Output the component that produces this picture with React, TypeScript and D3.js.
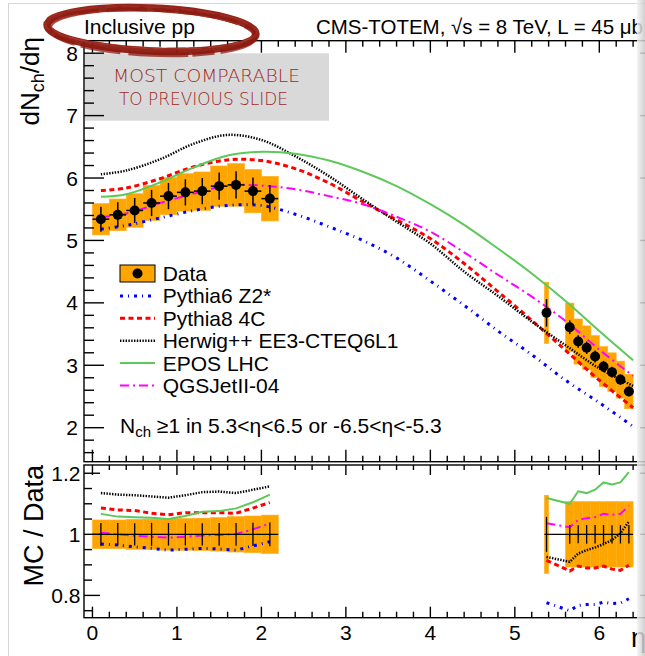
import React from "react";
import * as d3 from "d3";

const FONT = "'Liberation Sans', Arial, Helvetica, sans-serif";

// central region bins (0 < eta < 2.2)
const etaC = [0.1, 0.3, 0.5, 0.7, 0.9, 1.1, 1.3, 1.5, 1.7, 1.9, 2.1];
const loC = [0.0, 0.2, 0.4, 0.6, 0.8, 1.0, 1.2, 1.4, 1.6, 1.8, 2.0];
const hiC = [0.2, 0.4, 0.6, 0.8, 1.0, 1.2, 1.4, 1.6, 1.8, 2.0, 2.2];
const dataC = [5.34, 5.41, 5.48, 5.6, 5.71, 5.77, 5.79, 5.87, 5.89, 5.79, 5.67];
const statC = [0.2, 0.2, 0.2, 0.21, 0.21, 0.21, 0.21, 0.22, 0.22, 0.22, 0.22];
const sysC = [0.047, 0.047, 0.049, 0.05, 0.052, 0.052, 0.053, 0.055, 0.058, 0.06, 0.063];

// forward region bins (T2)
const etaF = [5.375, 5.65, 5.75, 5.85, 5.95, 6.05, 6.15, 6.25, 6.35];
const loF = [5.35, 5.6, 5.7, 5.8, 5.9, 6.0, 6.1, 6.2, 6.3];
const hiF = [5.4, 5.7, 5.8, 5.9, 6.0, 6.1, 6.2, 6.3, 6.4];
const dataF = [3.84, 3.61, 3.38, 3.28, 3.14, 2.98, 2.89, 2.77, 2.58];
const statF = [0.22, 0.11, 0.1, 0.1, 0.095, 0.09, 0.087, 0.083, 0.078];
const sysF = [0.128, 0.107, 0.107, 0.107, 0.107, 0.107, 0.107, 0.107, 0.107];

// MC predictions
const etaMC = [0.1, 0.4, 0.8, 1.2, 1.6, 2.0, 2.4, 2.8, 3.2, 3.6, 4.0, 4.4, 4.8, 5.2, 5.6, 6.0, 6.4];
const pythia6 = [5.18, 5.24, 5.36, 5.48, 5.56, 5.56, 5.42, 5.22, 5.0, 4.72, 4.35, 3.96, 3.55, 3.17, 2.76, 2.4, 2.02];
const pythia8 = [5.8, 5.84, 5.99, 6.18, 6.29, 6.28, 6.15, 5.92, 5.62, 5.33, 5.03, 4.63, 4.18, 3.72, 3.24, 2.76, 2.32];
const herwig = [6.06, 6.12, 6.3, 6.55, 6.69, 6.61, 6.35, 6.03, 5.66, 5.3, 4.95, 4.5, 4.11, 3.7, 3.32, 2.95, 2.67];
const epos = [5.7, 5.74, 5.93, 6.17, 6.36, 6.42, 6.39, 6.28, 6.1, 5.87, 5.58, 5.25, 4.87, 4.47, 4.03, 3.55, 3.08];
const qgsjet = [5.37, 5.43, 5.6, 5.75, 5.88, 5.88, 5.82, 5.71, 5.58, 5.38, 5.14, 4.81, 4.45, 4.1, 3.71, 3.25, 2.83];

// MC / Data
const rPy6C = [0.968, 0.965, 0.959, 0.954, 0.948, 0.951, 0.954, 0.952, 0.948, 0.962, 0.976];
const rPy8C = [1.086, 1.08, 1.078, 1.069, 1.064, 1.071, 1.071, 1.071, 1.069, 1.086, 1.104];
const rHerC = [1.135, 1.13, 1.128, 1.124, 1.12, 1.128, 1.138, 1.14, 1.135, 1.146, 1.157];
const rEposC = [1.067, 1.058, 1.056, 1.054, 1.05, 1.06, 1.074, 1.076, 1.085, 1.105, 1.13];
const rQgsC = [1.005, 1.0, 0.995, 0.992, 0.989, 0.992, 0.996, 0.998, 1.001, 1.016, 1.036];
const rPy6F = [0.776, 0.75, 0.767, 0.77, 0.77, 0.778, 0.773, 0.775, 0.789];
const rPy8F = [0.915, 0.88, 0.896, 0.89, 0.89, 0.896, 0.886, 0.882, 0.899];
const rHerF = [0.926, 0.91, 0.937, 0.948, 0.957, 0.968, 0.981, 1.003, 1.042];
const rEposF = [1.119, 1.1, 1.141, 1.135, 1.146, 1.17, 1.163, 1.17, 1.204];
const rQgsF = [1.036, 1.023, 1.047, 1.053, 1.056, 1.067, 1.064, 1.067, 1.093];

const modelNames = ["Pythia6 Z2*", "Pythia8 4C", "Herwig++ EE3-CTEQ6L1", "EPOS LHC", "QGSJetII-04"];
const yTicksMain = [2, 3, 4, 5, 6, 7, 8];
const yTicksRatio = [0.8, 1, 1.2];
const xTicks = [0, 1, 2, 3, 4, 5, 6];

const ORANGE = "#ffa500";

export default function App() {
  const x = d3.scaleLinear().domain([-0.1, 6.6]).range([84, 650]);
  const yM = d3.scaleLinear().domain([1.455, 8.2]).range([461.7, 40.7]);
  const yR = d3.scaleLinear().domain([0.727, 1.227]).range([617.7, 465]);

  const styles = [
    { color: "#0000ff", w: 3, dash: "3,5,1,5" },
    { color: "#ff0000", w: 3, dash: "5,3.5" },
    { color: "#000000", w: 2.5, dash: "1.4,1.4" },
    { color: "#5cc95a", w: 2, dash: "none" },
    { color: "#ff00ff", w: 2, dash: "9,4,2,4" },
  ];
  const models = [
    { vals: pythia6, rc: rPy6C, rf: rPy6F },
    { vals: pythia8, rc: rPy8C, rf: rPy8F },
    { vals: herwig, rc: rHerC, rf: rHerF },
    { vals: epos, rc: rEposC, rf: rEposF },
    { vals: qgsjet, rc: rQgsC, rf: rQgsF },
  ].map((m, i) => ({ ...m, ...styles[i], name: modelNames[i] }));

  const lineMain = d3
    .line<number>()
    .x((_, i) => x(etaMC[i]))
    .y((d) => yM(d))
    .curve(d3.curveCatmullRom);
  const lineRC = d3.line<number>().x((_, i) => x(etaC[i])).y((d) => yR(d));
  const lineRF = d3.line<number>().x((_, i) => x(etaF[i])).y((d) => yR(d));

  // tick marks
  const xMinor = d3.range(0, 34).map((i) => i * 0.2);
  const yMainMinor = d3.range(8, 42).map((i) => i * 0.2);
  const yRatioMinor = d3.range(15, 25).map((i) => i * 0.05);
  const isInt = (v: number) => Math.abs(v - Math.round(v)) < 1e-6;

  const tk: JSX.Element[] = [];
  xMinor.forEach((v, i) => {
    const X = x(v);
    const maj = i % 5 === 0;
    tk.push(<line key={"xmb" + i} x1={X} x2={X} y1={461.7} y2={461.7 - (maj ? 12 : 6)} />);
    tk.push(<line key={"xmt" + i} x1={X} x2={X} y1={40.7} y2={40.7 + (maj ? 12 : 6)} />);
    tk.push(<line key={"xrt" + i} x1={X} x2={X} y1={465} y2={465 + (maj ? 10 : 5)} />);
    tk.push(<line key={"xrb" + i} x1={X} x2={X} y1={617.7} y2={617.7 - (maj ? 11 : 6)} />);
  });
  yMainMinor.forEach((v, i) => {
    const Y = yM(v);
    const maj = isInt(v);
    tk.push(<line key={"yml" + i} x1={84} x2={84 + (maj ? 20 : 10)} y1={Y} y2={Y} />);
    tk.push(<line key={"ymr" + i} x1={650} x2={650 - (maj ? 10 : 5)} y1={Y} y2={Y} />);
  });
  yRatioMinor.forEach((v, i) => {
    const Y = yR(v);
    const maj = i % 4 === 1;
    tk.push(<line key={"yrl" + i} x1={84} x2={84 + (maj ? 16 : 8)} y1={Y} y2={Y} />);
    tk.push(<line key={"yrr" + i} x1={650} x2={650 - (maj ? 10 : 5)} y1={Y} y2={Y} />);
  });

  const legendY = [273.5, 295.9, 318.3, 340.7, 363.1, 385.5];
  const RED = "#8c1a10";

  return (
    <svg
      width={645}
      height={656}
      style={{ position: "absolute", left: 0, top: 0, background: "#fff" }}
      fontFamily={FONT}
    >
      <defs>
        <linearGradient id="edge" x1="0" x2="1" y1="0" y2="0">
          <stop offset="0" stopColor="#f2f2f2" />
          <stop offset="1" stopColor="#c8c8c8" />
        </linearGradient>
      </defs>
      <rect x={0} y={0} width={645} height={656} fill="#fff" />
      {/* slide border */}
      <line x1={8.5} x2={8.5} y1={3} y2={656} stroke="#d6d6d6" />
      <line x1={8} x2={645} y1={3.5} y2={3.5} stroke="#d6d6d6" />

      {/* annotation box */}
      <rect x={85} y={53.3} width={244} height={67.4} fill="#d9d9d9" />
      <text x={113} y={82} fontSize={17} fill="#9c2a1e" textLength={187} lengthAdjust="spacingAndGlyphs"
        fontFamily="'DejaVu Sans', sans-serif" fontWeight={300}>
        MOST COMPARABLE
      </text>
      <text x={119} y={104.5} fontSize={17} fill="#9c2a1e" textLength={169} lengthAdjust="spacingAndGlyphs"
        fontFamily="'DejaVu Sans', sans-serif" fontWeight={300}>
        TO PREVIOUS SLIDE
      </text>

      {/* ---------- main panel ---------- */}
      {etaC.map((e, i) => (
        <rect key={"bc" + i} x={x(loC[i])} width={x(hiC[i]) - x(loC[i])}
          y={yM(dataC[i] * (1 + sysC[i]))} height={yM(dataC[i] * (1 - sysC[i])) - yM(dataC[i] * (1 + sysC[i]))}
          fill={ORANGE} stroke="#ffb01f" strokeWidth={0.6} />
      ))}
      {etaF.map((e, i) => (
        <rect key={"bf" + i} x={x(loF[i])} width={x(hiF[i]) - x(loF[i])}
          y={yM(dataF[i] * (1 + sysF[i]))} height={yM(dataF[i] * (1 - sysF[i])) - yM(dataF[i] * (1 + sysF[i]))}
          fill={ORANGE} stroke="#ffb01f" strokeWidth={0.6} />
      ))}
      {models.map((m, i) => (
        <path key={"mm" + i} d={lineMain(m.vals) || ""} fill="none" stroke={m.color}
          strokeWidth={m.w} strokeDasharray={m.dash} />
      ))}
      <g stroke="#000" strokeWidth={1.5}>
        {etaC.map((e, i) => (
          <g key={"ec" + i}>
            <line x1={x(e)} x2={x(e)} y1={yM(dataC[i] - statC[i])} y2={yM(dataC[i] + statC[i])} />
            <line x1={x(loC[i])} x2={x(hiC[i])} y1={yM(dataC[i])} y2={yM(dataC[i])} />
          </g>
        ))}
        {etaF.map((e, i) => (
          <g key={"ef" + i}>
            <line x1={x(e)} x2={x(e)} y1={yM(dataF[i] - statF[i])} y2={yM(dataF[i] + statF[i])} />
            <line x1={x(loF[i])} x2={x(hiF[i])} y1={yM(dataF[i])} y2={yM(dataF[i])} />
          </g>
        ))}
      </g>
      {etaC.map((e, i) => (
        <circle key={"pc" + i} cx={x(e)} cy={yM(dataC[i])} r={5} fill="#000" />
      ))}
      {etaF.map((e, i) => (
        <circle key={"pf" + i} cx={x(e)} cy={yM(dataF[i])} r={5} fill="#000" />
      ))}

      {/* legend */}
      <rect x={120} y={265} width={35} height={17} fill={ORANGE} stroke="#000" strokeWidth={1} />
      <circle cx={137.5} cy={273.5} r={5} fill="#000" />
      <text x={162.7} y={legendY[0] + 7.5} fontSize={21}>Data</text>
      {models.map((m, i) => (
        <g key={"lg" + i}>
          <line x1={120} x2={155} y1={legendY[i + 1]} y2={legendY[i + 1]} stroke={m.color}
            strokeWidth={m.w} strokeDasharray={m.dash} />
          <text x={162.7} y={legendY[i + 1] + 7.5} fontSize={21}>{m.name}</text>
        </g>
      ))}
      <text x={120} y={432.5} fontSize={21}>
        N<tspan fontSize={15} dy={4}>ch</tspan>
        <tspan dy={-4}> ≥1 in 5.3&lt;η&lt;6.5 or -6.5&lt;η&lt;-5.3</tspan>
      </text>

      {/* ---------- ratio panel ---------- */}
      {etaC.map((e, i) => (
        <rect key={"rbc" + i} x={x(loC[i])} width={x(hiC[i]) - x(loC[i])}
          y={yR(1 + sysC[i])} height={yR(1 - sysC[i]) - yR(1 + sysC[i])}
          fill={ORANGE} stroke="#ffb01f" strokeWidth={0.6} />
      ))}
      {etaF.map((e, i) => (
        <rect key={"rbf" + i} x={x(loF[i])} width={x(hiF[i]) - x(loF[i])}
          y={yR(1 + sysF[i])} height={yR(1 - sysF[i]) - yR(1 + sysF[i])}
          fill={ORANGE} stroke="#ffb01f" strokeWidth={0.6} />
      ))}
      {models.map((m, i) => (
        <g key={"rm" + i} fill="none" stroke={m.color} strokeWidth={m.w} strokeDasharray={m.dash}>
          <path d={lineRC(m.rc) || ""} />
          <path d={lineRF(m.rf) || ""} />
        </g>
      ))}
      <g stroke="#000" strokeWidth={1.3}>
        <line x1={x(loC[0])} x2={x(hiC[hiC.length - 1])} y1={yR(1)} y2={yR(1)} />
        <line x1={x(loF[0])} x2={x(hiF[hiF.length - 1])} y1={yR(1)} y2={yR(1)} />
        {etaC.map((e, i) => (
          <line key={"rec" + i} x1={x(e)} x2={x(e)} y1={yR(1 - statC[i] / dataC[i])} y2={yR(1 + statC[i] / dataC[i])} />
        ))}
        {etaF.map((e, i) => (
          <line key={"ref" + i} x1={x(e)} x2={x(e)} y1={yR(1 - statF[i] / dataF[i])} y2={yR(1 + statF[i] / dataF[i])} />
        ))}
      </g>

      {/* frames and ticks */}
      <g stroke="#000" strokeWidth={1.4} fill="none">
        <rect x={84} y={40.7} width={566} height={421} />
        <rect x={84} y={465} width={566} height={152.7} />
        {tk}
      </g>

      {/* tick labels */}
      <g fontSize={21} textAnchor="end">
        {yTicksMain.map((v) => (
          <text key={"ylm" + v} x={78} y={yM(v) + 7.5}>{v}</text>
        ))}
        {yTicksRatio.map((v) => (
          <text key={"ylr" + v} x={80.5} y={yR(v) + 7.5}>{v}</text>
        ))}
      </g>
      <g fontSize={21} textAnchor="middle">
        {xTicks.map((v) => (
          <text key={"xl" + v} x={x(v)} y={640}>{v}</text>
        ))}
      </g>

      {/* axis titles */}
      <text transform="translate(39,37) rotate(-90)" textAnchor="end" fontSize={26}>
        dN<tspan fontSize={18} dy={5}>ch</tspan>
        <tspan dy={-5}>/dη</tspan>
      </text>
      <text transform="translate(43,465) rotate(-90)" textAnchor="end" fontSize={27}>
        MC / Data
      </text>
      <text x={646} y={647} textAnchor="end" fontSize={27}>η</text>

      {/* header */}
      <text x={84} y={34} fontSize={21}>Inclusive pp</text>
      <text x={316} y={34} fontSize={21} textLength={327} lengthAdjust="spacingAndGlyphs">
        CMS-TOTEM, √s = 8 TeV, L = 45 μb
      </text>

      {/* hand-drawn ellipse */}
      <g fill="none" transform="rotate(2.5,151.5,29.5)">
        <ellipse cx={151.5} cy={29.5} rx={104.5} ry={21.5} stroke={RED} strokeWidth={7.5} opacity={0.95} />
        <ellipse cx={152.5} cy={32} rx={103} ry={22.5} stroke={RED} strokeWidth={4.5} opacity={0.75}
          strokeDasharray="40,6,22,4,60,8" />
        <ellipse cx={150.5} cy={27.5} rx={106.5} ry={20.5} stroke="#a53225" strokeWidth={2} opacity={0.55}
          strokeDasharray="18,5,30,7,12,4" />
        <ellipse cx={151.5} cy={30} rx={100.5} ry={18.5} stroke="#b5473a" strokeWidth={1.2} opacity={0.45}
          strokeDasharray="25,9,14,6" />
      </g>

      {/* slide edge shadow */}
      <rect x={637} y={0} width={8} height={656} fill="url(#edge)" opacity={0.85} />
    </svg>
  );
}
